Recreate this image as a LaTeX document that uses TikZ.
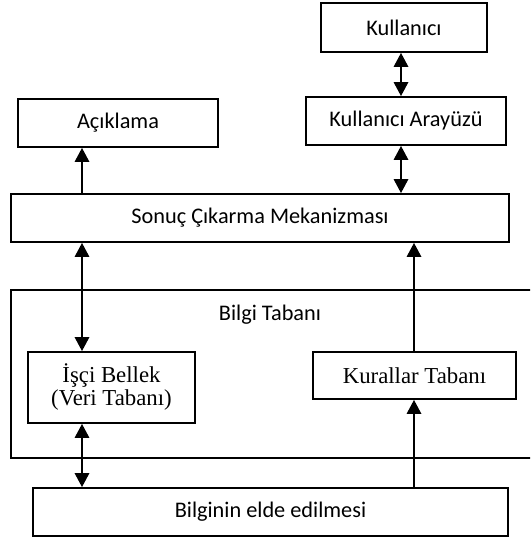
\documentclass[tikz,border=0pt]{standalone}
\usepackage{fontspec}
\setmainfont{Carlito}
\newfontfamily\timesfont{Liberation Serif}
\usetikzlibrary{arrows.meta, calc, positioning}

\tikzset{
    kutu/.style={draw, line width=1.6pt, inner sep=0pt, font=\fontsize{22.3}{26}\selectfont},
    serifkutu/.style={kutu, font=\timesfont\fontsize{22.8}{23}\selectfont, align=center},
    ok/.style={-{Triangle[width=14pt,length=14pt]}, line width=2.8pt},
    ciftok/.style={{Triangle[width=14pt,length=14pt]}-{Triangle[width=14pt,length=14pt]}, line width=2.8pt}
}

\begin{document}
\begin{tikzpicture}[x=1pt, y=-1pt]
    \useasboundingbox (0,0) rectangle (530,538);
    \clip (0,0) rectangle (530,538);
    % ust kutular
    \node[kutu, minimum width=166pt, minimum height=49pt] (kullanici) at (404,27.5) {Kullanıcı};
    \node[kutu, minimum width=200pt, minimum height=48pt] (aciklama) at (118,123) {Açıklama};
    \node[kutu, minimum width=200pt, minimum height=48pt] (arayuz) at (406,121) {Kullanıcı Arayüzü};
    \node[kutu, minimum width=498pt, minimum height=48pt] (sonuc) at (260,218) {Sonuç Çıkarma Mekanizması};
    % bilgi tabani
    \node[kutu, minimum width=530pt, minimum height=168pt] (bilgi) at (276,374) {};
    \node[font=\fontsize{22.3}{26}\selectfont] (bilgiyazi) at (270,315) {Bilgi Tabanı};
    \node[serifkutu, minimum width=167pt, minimum height=71pt] (isci) at (111.5,387.5) {İşçi Bellek\\(Veri Tabanı)};
    \node[serifkutu, minimum width=203pt, minimum height=47pt] (kurallar) at (414.5,375.5) {Kurallar Tabanı};
    \node[kutu, minimum width=475pt, minimum height=48pt] (elde) at (270.5,512) {Bilginin elde edilmesi};
    % oklar
    \coordinate (solsutun) at (82,0);
    \coordinate (arasutun) at (401,0);
    \coordinate (sagsutun) at (414,0);
    \draw[ok] (sonuc.north -| solsutun) -- (aciklama.south -| solsutun);
    \draw[ciftok] (kullanici.south -| arasutun) -- (arayuz.north -| arasutun);
    \draw[ciftok] (arayuz.south -| arasutun) -- (sonuc.north -| arasutun);
    \draw[ciftok] (sonuc.south -| solsutun) -- (isci.north -| solsutun);
    \draw[ok] (kurallar.north -| sagsutun) -- (sonuc.south -| sagsutun);
    \draw[ciftok] (isci.south -| solsutun) -- (elde.north -| solsutun);
    \draw[ok] (elde.north -| sagsutun) -- (kurallar.south -| sagsutun);
\end{tikzpicture}
\end{document}
